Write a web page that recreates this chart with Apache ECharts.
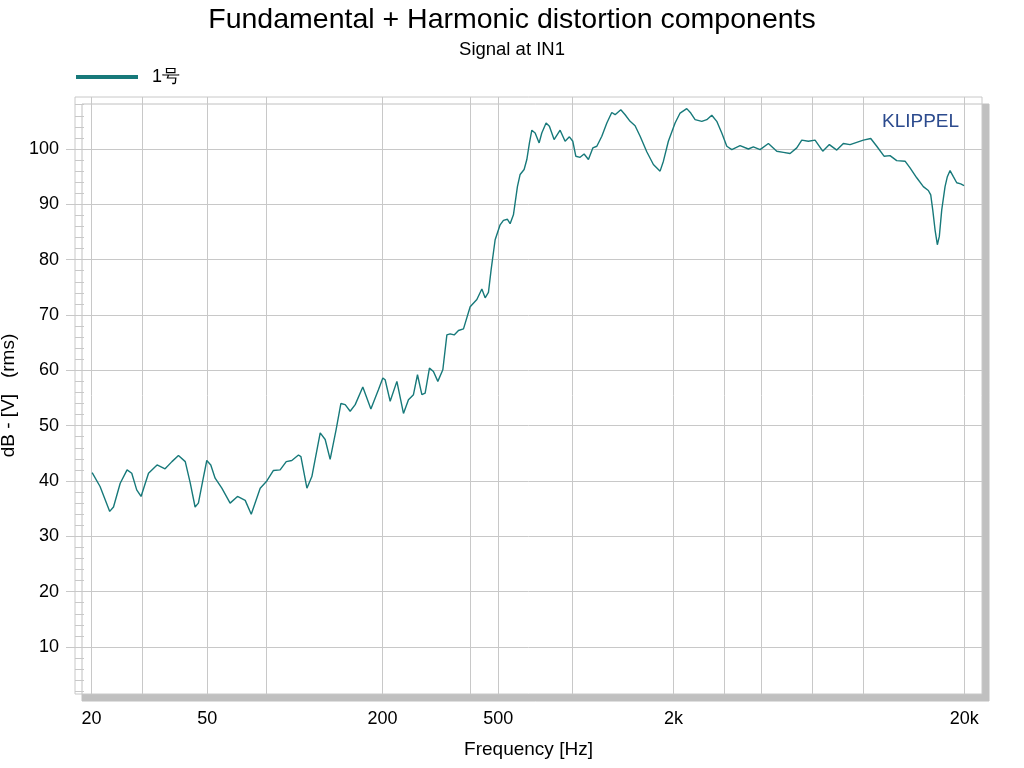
<!DOCTYPE html>
<html>
<head>
<meta charset="utf-8">
<script src="https://cdn.jsdelivr.net/npm/echarts@6/dist/echarts.min.js"></script>
<style>
html,body{margin:0;padding:0;background:#fff;}
#chart{width:1024px;height:768px;}
</style>
</head>
<body>
<div id="chart"></div>
<script>
// Frequency (Hz) of each trace point
const freqHz = [
  20.1, 21.4, 23.1, 23.8, 25.1, 26.5, 27.5, 28.6, 29.6, 31.4,
  33.6, 35.8, 37.8, 39.8, 42.0, 43.7, 45.4, 46.6, 48.3, 49.8,
  51.4, 53.2, 56.1, 59.9, 63.5, 67.5, 70.8, 76.0, 80.1, 84.4,
  89.0, 93.4, 97.6, 102.9, 104.9, 110.0, 114.4, 122.2, 127.1, 132.2,
  138.6, 143.9, 148.9, 154.9, 161.2, 171.2, 182.5, 193.7, 200.6, 204.3,
  212.6, 224.2, 236.2, 245.7, 255.6, 263.9, 273.2, 280.4, 290.1, 299.4,
  310.0, 322.5, 333.0, 341.7, 352.8, 365.0, 379.8, 400.4, 422.2, 439.2,
  450.8, 462.7, 472.7, 487.9, 507.6, 521.0, 537.8, 549.3, 563.9, 582.0,
  594.6, 613.7, 627.0, 640.1, 652.3, 669.6, 691.2, 705.8, 730.2, 749.6,
  778.0, 815.9, 848.8, 878.2, 902.2, 923.8, 955.8, 986.5, 1021, 1057,
  1091, 1135, 1181, 1228, 1261, 1319, 1365, 1420, 1477, 1537,
  1620, 1707, 1800, 1848, 1922, 2027, 2109, 2223, 2295, 2375,
  2504, 2605, 2710, 2819, 2933, 3052, 3175, 3390, 3620, 3766,
  3972, 4242, 4533, 4776, 5036, 5309, 5524, 5820, 6136, 6521,
  6873, 7287, 7677, 8095, 8535, 8993, 9534, 10000, 10593, 11108,
  11711, 12509, 13014, 13721, 14458, 15042, 15329, 15575, 15861, 16152,
  16408, 16724, 17168, 17483, 17861, 18333, 18833, 19436, 19952
];
// Level in dB - [V] (rms)
const levelDb = [
  41.5, 39.0, 34.5, 35.3, 39.6, 42.0, 41.4, 38.4, 37.2, 41.4,
  42.9, 42.2, 43.5, 44.6, 43.5, 39.6, 35.3, 36.0, 40.2, 43.7,
  42.9, 40.5, 38.7, 36.0, 37.2, 36.5, 34.0, 38.7, 40.0, 41.9,
  42.0, 43.5, 43.7, 44.7, 44.4, 38.7, 40.8, 48.7, 47.5, 43.9,
  49.3, 54.0, 53.8, 52.6, 53.8, 57.0, 53.0, 56.5, 58.6, 58.3,
  54.4, 58.0, 52.2, 54.7, 55.6, 59.2, 55.6, 55.9, 60.4, 59.8,
  58.0, 60.1, 66.4, 66.6, 66.4, 67.2, 67.5, 71.5, 72.8, 74.7,
  73.1, 74.1, 78.2, 83.6, 86.3, 87.1, 87.3, 86.5, 88.1, 93.2,
  95.4, 96.3, 98.1, 101.1, 103.4, 102.9, 101.1, 102.9, 104.7, 104.1,
  101.7, 103.4, 101.4, 102.2, 101.4, 98.7, 98.5, 99.1, 98.1, 100.2,
  100.5, 102.3, 104.7, 106.6, 106.2, 107.1, 106.2, 105.0, 104.2, 102.3,
  99.5, 97.2, 96.0, 97.8, 101.4, 104.7, 106.5, 107.3, 106.5, 105.3,
  105.0, 105.3, 106.1, 105.0, 102.9, 100.5, 99.9, 100.6, 100.0, 100.4,
  99.9, 101.0, 99.6, 99.4, 99.2, 100.2, 101.6, 101.4, 101.6, 99.6,
  100.8, 99.8, 101.0, 100.8, 101.2, 101.6, 101.9, 100.5, 98.7, 98.8,
  97.9, 97.8, 96.6, 94.8, 93.2, 92.5, 91.7, 89.0, 85.4, 82.7,
  84.2, 89.0, 93.2, 95.0, 96.1, 95.0, 93.9, 93.7, 93.4
];
const seriesName = '1号';
// x-axis gridline frequencies and labelled frequencies
const xGridFreqs = [20, 30, 50, 80, 200, 400, 500, 900, 2000, 3000, 4000, 6000, 9000, 20000];
const xLabelFreqs = [20, 50, 200, 500, 2000, 20000];
const xLabelTexts = ['20', '50', '200', '500', '2k', '20k'];
// y-axis major and minor ticks
const yMajorTicks = [10, 20, 30, 40, 50, 60, 70, 80, 90, 100];
const yMinorTicks = [2, 4, 6, 8, 12, 14, 16, 18, 22, 24, 26, 28, 32, 34, 36, 38, 42, 44, 46, 48,
  52, 54, 56, 58, 62, 64, 66, 68, 72, 74, 76, 78, 82, 84, 86, 88, 92, 94, 96, 98, 102, 104, 106, 108];

const FONT = '"Liberation Sans", Arial, sans-serif';
const GRID_C = '#c8c8c8';
const LINE_C = '#17797a';

const data = freqHz.map((f, i) => [f, levelDb[i]]);

const chart = echarts.init(document.getElementById('chart'), null, {renderer: 'canvas'});
chart.setOption({
  backgroundColor: '#fff',
  animation: false,
  textStyle: {fontFamily: FONT},
  title: {
    text: 'Fundamental + Harmonic distortion components',
    subtext: 'Signal at IN1',
    left: 'center',
    top: 1,
    itemGap: 5,
    textStyle: {fontSize: 28.5, fontWeight: 'normal', color: '#000', fontFamily: FONT},
    subtextStyle: {fontSize: 18.5, color: '#000', fontFamily: FONT}
  },
  legend: {
    data: [seriesName],
    left: 76,
    top: 68,
    padding: 0,
    icon: 'rect',
    itemWidth: 62,
    itemHeight: 4,
    textStyle: {fontSize: 18, color: '#000', fontFamily: FONT, padding: [0, 0, 0, 9]}
  },
  grid: {
    left: 75, top: 97, width: 907, height: 597,
    outerBoundsMode: 'none',
    containLabel: false,
    show: true,
    backgroundColor: '#fff',
    borderColor: GRID_C,
    borderWidth: 1,
    shadowColor: '#c0c0c0',
    shadowBlur: 0,
    shadowOffsetX: 7,
    shadowOffsetY: 7
  },
  xAxis: {
    type: 'log',
    logBase: 10,
    min: 17.55,
    max: 23000,
    name: 'Frequency [Hz]',
    nameLocation: 'middle',
    nameGap: 46,
    nameTextStyle: {fontSize: 19, color: '#000', fontFamily: FONT},
    axisLine: {show: false},
    axisTick: {show: false, customValues: xGridFreqs},
    splitLine: {show: true, lineStyle: {color: GRID_C, width: 1}},
    minorTick: {show: false},
    minorSplitLine: {show: false},
    axisLabel: {
      customValues: xLabelFreqs,
      fontSize: 18,
      color: '#000',
      margin: 16,
      fontFamily: FONT,
      formatter: function (v) {
        let best = 0, bd = Infinity;
        xLabelFreqs.forEach((f, i) => { const d = Math.abs(Math.log(v / f)); if (d < bd) { bd = d; best = i; } });
        return xLabelTexts[best];
      }
    }
  },
  yAxis: [{
    type: 'value',
    min: 1.5,
    max: 109.4,
    name: 'dB - [V]   (rms)',
    nameLocation: 'middle',
    nameGap: 56,
    nameRotate: 90,
    nameTextStyle: {fontSize: 19, color: '#000', fontFamily: FONT},
    axisLine: {show: false},
    axisTick: {show: true, length: 9, customValues: yMajorTicks, lineStyle: {color: GRID_C}},
    axisLabel: {customValues: yMajorTicks, fontSize: 18, color: '#000', margin: 16, fontFamily: FONT},
    splitLine: {show: true, lineStyle: {color: GRID_C, width: 1}}
  }, {
    type: 'value',
    min: 1.5,
    max: 109.4,
    position: 'left',
    offset: 0,
    axisLine: {show: false},
    axisLabel: {show: false},
    splitLine: {show: false},
    axisTick: {show: true, inside: true, length: 9, customValues: yMinorTicks, lineStyle: {color: GRID_C}}
  }],
  graphic: [{
    type: 'text',
    left: 882,
    top: 112,
    style: {text: 'KLIPPEL', fontSize: 19, fill: '#2c4b8e', fontFamily: FONT}
  }],
  series: [{
    name: seriesName,
    type: 'line',
    data: data,
    showSymbol: false,
    symbol: 'none',
    smooth: false,
    lineStyle: {color: LINE_C, width: 1.4},
    itemStyle: {color: LINE_C},
    clip: true
  }]
});
</script>
</body>
</html>
